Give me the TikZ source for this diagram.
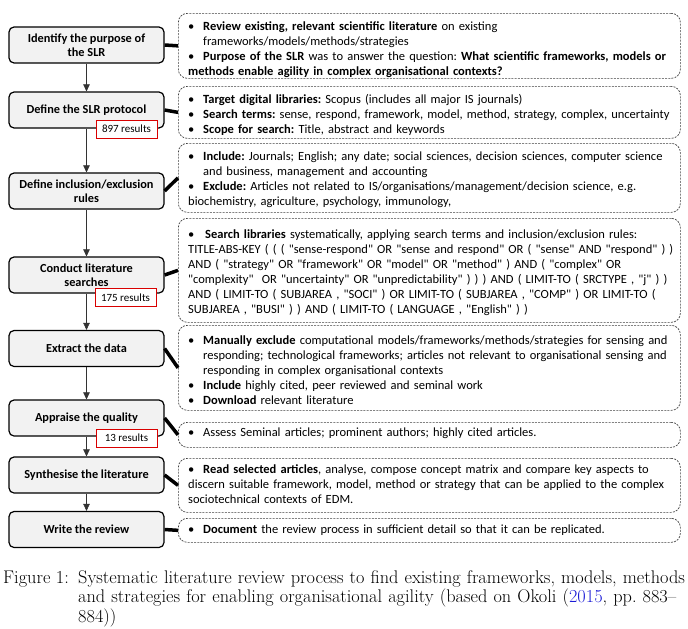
\documentclass[tikz,border=0pt]{standalone}
\usepackage{fontspec}
\newfontfamily\carl{Carlito}
\usetikzlibrary{arrows.meta}
\definecolor{lfill}{HTML}{F2F2F2}
\definecolor{citeblue}{HTML}{1A1AD6}
\newcommand\nl{\hfil\break}
\newcommand\bitem[1]{\noindent\hangindent=15pt\hangafter=1\makebox[15pt][l]{\textbullet}#1}
\begin{document}
\frenchspacing
\begin{tikzpicture}[x=1pt,y=-1pt,
 lbox/.style={draw=black, line width=1.2pt, fill=lfill, rounded corners=5pt, minimum width=155pt, minimum height=36pt, inner sep=0pt, align=center, font=\carl\bfseries\fontsize{12.3}{14.5}\selectfont},
 rbox/.style={draw=black!75, line width=0.7pt, dash pattern=on 2pt off 1.2pt, rounded corners=9pt, anchor=north west, inner sep=0pt},
 rtext/.style={anchor=north west, inner sep=0pt, text width=530pt, font=\carl\frenchspacing\fontsize{12.5}{15}\selectfont},
 badge/.style={draw=red!85!black, line width=0.9pt, fill=white, minimum width=61pt, minimum height=18pt, inner sep=0pt, font=\carl\fontsize{11}{12}\selectfont},
 conn/.style={line width=3.5pt, black},
 flow/.style={draw=black!80, line width=0.6pt, -{Triangle[length=7pt,width=6.5pt]}}
]
\useasboundingbox (0,0) rectangle (688,629);
% left boxes
\node[lbox] (l1) at (86.5,45) {Identify the purpose of\\the SLR};
\node[lbox] (l2) at (86.5,110) {Define the SLR protocol};
\node[lbox] (l3) at (86.5,191) {Define inclusion/exclusion\\rules};
\node[lbox] (l4) at (86.5,275) {Conduct literature\\searches};
\node[lbox] (l5) at (86.5,348.5) {Extract the data};
\node[lbox] (l6) at (86.5,418) {Appraise the quality};
\node[lbox] (l7) at (86.5,475) {Synthesise the literature};
\node[lbox] (l8) at (86.5,529.5) {Write the review};
% flow arrows
\draw[flow] (l1) -- (l2);
\draw[flow] (l2) -- (l3);
\draw[flow] (l3) -- (l4);
\draw[flow] (l4) -- (l5);
\draw[flow] (l5) -- (l6);
\draw[flow] (l6) -- (l7);
\draw[flow] (l7) -- (l8);
% badges
\node[badge] (b1) at (126.5,129) {897 results};
\node[badge] (b2) at (125.5,297.5) {175 results};
\node[badge] (b3) at (126.5,438) {13 results};
% right boxes
\node[rbox, minimum width=502pt, minimum height=65pt] (r1) at (178,13) {};
\node[rbox, minimum width=502pt, minimum height=52pt] (r2) at (178,86) {};
\node[rbox, minimum width=502pt, minimum height=69pt] (r3) at (178,143) {};
\node[rbox, minimum width=502pt, minimum height=104pt] (r4) at (178,218) {};
\node[rbox, minimum width=502pt, minimum height=85pt] (r5) at (178,325) {};
\node[rbox, minimum width=502pt, minimum height=25pt] (r6) at (178,422) {};
\node[rbox, minimum width=502pt, minimum height=54pt] (r7) at (178,458) {};
\node[rbox, minimum width=502pt, minimum height=24pt] (r8) at (178,518) {};
% connectors
\foreach \i in {1,...,8} {\draw[conn] (l\i.east) -- (r\i.west);}
% texts
\node[rtext] (t1) at (188,22) {%
\bitem{\textbf{Review existing, relevant scientific literature} on existing\nl frameworks/models/methods/strategies}\par
\bitem{\textbf{Purpose of the SLR} was to answer the question: \textbf{What scientific frameworks, models or}\nl\textbf{methods enable agility in complex organisational contexts?}}};
\node[rtext] (t2) at (188,94) {%
\bitem{\textbf{Target digital libraries:} Scopus (includes all major IS journals)}\par
\bitem{\textbf{Search terms:} sense, respond, framework, model, method, strategy, complex, uncertainty}\par
\bitem{\textbf{Scope for search:} Title, abstract and keywords}};
\node[rtext] (t3) at (188,152) {%
\bitem{\textbf{Include:} Journals; English; any date; social sciences, decision sciences, computer science\nl and business, management and accounting}\par
\bitem{\textbf{Exclude:} Articles not related to IS/organisations/management/decision science, e.g.\nl biochemistry, agriculture, psychology, immunology,}};
\node[rtext] (t4) at (188,230) {%
\noindent\makebox[17pt][l]{\textbullet}\textbf{Search libraries} systematically, applying search terms and inclusion/exclusion rules:\nl
TITLE-ABS-KEY ( ( ( "sense-respond" OR "sense and respond" OR ( "sense" AND "respond" ) )\nl
AND ( "strategy" OR "framework" OR "model" OR "method" ) AND ( "complex" OR\nl
"complexity"\ \ OR "uncertainty" OR "unpredictability" ) ) ) AND ( LIMIT-TO ( SRCTYPE , "j" ) )\nl
AND ( LIMIT-TO ( SUBJAREA , "SOCI" ) OR LIMIT-TO ( SUBJAREA , "COMP" ) OR LIMIT-TO (\nl
SUBJAREA , "BUSI" ) ) AND ( LIMIT-TO ( LANGUAGE , "English" ) )};
\node[rtext] (t5) at (188,336) {%
\bitem{\textbf{Manually exclude} computational models/frameworks/methods/strategies for sensing and\nl responding; technological frameworks; articles not relevant to organisational sensing and\nl responding in complex organisational contexts}\par
\bitem{\textbf{Include} highly cited, peer reviewed and seminal work}\par
\bitem{\textbf{Download} relevant literature}};
\node[rtext] (t6) at (188,428) {%
\bitem{Assess Seminal articles; prominent authors; highly cited articles.}};
\node[rtext] (t7) at (188,465) {%
\bitem{\textbf{Read selected articles}, analyse, compose concept matrix and compare key aspects to\nl discern suitable framework, model, method or strategy that can be applied to the complex\nl sociotechnical contexts of EDM.}};
\node[rtext] (t8) at (188,525) {%
\bitem{\textbf{Document} the review process in sufficient detail so that it can be replicated.}};
% caption
\node[anchor=base west, inner sep=0pt, font=\fontsize{18.3}{19.5}\selectfont] (fig) at (3,583) {Figure 1:};
\node[anchor=base west, inner sep=0pt, text width=640pt, align=left, font=\fontsize{18.3}{19.5}\selectfont] (cap) at (78,583) {Systematic literature review process to find existing frameworks, models, methods\\and strategies for enabling organisational agility (based on Okoli (\textcolor{citeblue}{2015}, pp. 883--\\884))};
\end{tikzpicture}
\end{document}
